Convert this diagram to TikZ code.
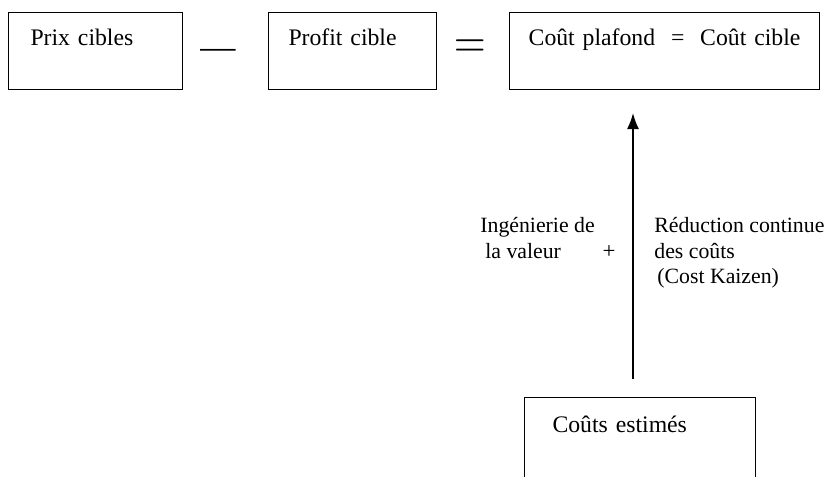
\documentclass[tikz,border=0pt]{standalone}
\usepackage{fontspec}
\setmainfont{Liberation Serif}
\usetikzlibrary{arrows.meta}

\begin{document}
\begin{tikzpicture}[
  boite/.style={draw, line width=0.6pt, inner ysep=0pt, font=\fontsize{13.5}{16}\selectfont},
  texte/.style={inner sep=0pt, anchor=base west, font=\fontsize{12.4}{15}\selectfont},
  operateur/.style={inner sep=0pt}
]
\useasboundingbox (0,0) rectangle (16.8,9.52);
% cases du haut
\node[boite, anchor=north west, inner xsep=0.44cm, text width=2.6cm, align=left, text height=0.66cm, text depth=0.88cm] (prix) at (0.16,9.28) {Prix cibles};
\node[operateur, font=\fontsize{20}{20}\selectfont] (moins) at (4.36,8.45) {—};
\node[boite, anchor=north west, inner xsep=0.4cm, text width=2.56cm, align=left, text height=0.66cm, text depth=0.88cm] (profit) at (5.36,9.28) {Profit cible};
\node[operateur, font=\fontsize{30}{30}\selectfont, yscale=1.2] (egal) at (9.40,8.54) {$=$};
\node[boite, anchor=north west, inner xsep=0.2cm, text width=5.8cm, align=center, text height=0.66cm, text depth=0.88cm] (cible) at (10.18,9.28) {Coût plafond \ = \ Coût cible};
% case du bas
\node[boite, anchor=north west, inner xsep=0.56cm, text width=3.5cm, align=left, text height=0.7cm, text depth=0.98cm] (estimes) at (10.48,1.58) {Coûts estimés};
% fleche
\coordinate (axe) at (12.66,0);
\draw[line width=0.9pt, -{Latex[length=3.2mm,width=2.4mm]}, shorten <=3.6mm, shorten >=4.6mm] (estimes.north -| axe) -- (cible.south -| axe);
% textes de part et d'autre
\node[texte] (inge) at (9.6,4.86) {Ingénierie de};
\node[texte] (valeur) at (9.7,4.36) {la valeur};
\node[operateur, font=\fontsize{13}{15}\selectfont] (plus) at (12.18,4.48) {+};
\node[texte] (reduc) at (13.08,4.86) {Réduction continue};
\node[texte] (couts) at (13.08,4.36) {des coûts};
\node[texte] (kaizen) at (13.14,3.86) {(Cost Kaizen)};
\end{tikzpicture}
\end{document}
